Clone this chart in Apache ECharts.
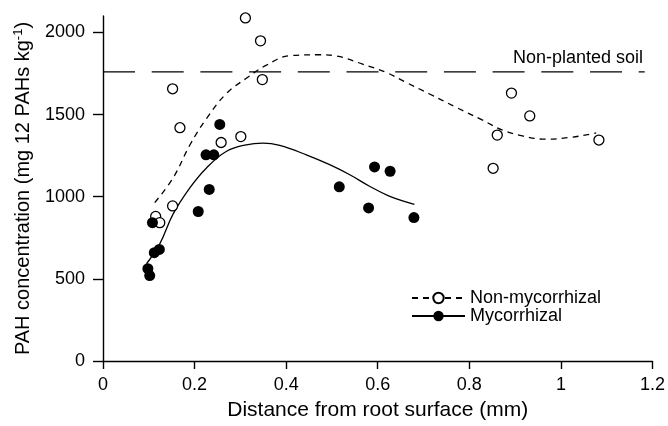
<!DOCTYPE html>
<html>
<head>
<meta charset="utf-8">
<script src="https://cdn.jsdelivr.net/npm/echarts@6/dist/echarts.min.js"></script>
<style>
html,body{margin:0;padding:0;background:#fff;}
#chart{width:668px;height:426px;}
</style>
</head>
<body>
<div id="chart"></div>
<script>
// Observed points: [distance (mm), PAH concentration]
const nonMycPoints = [
  [0.311, 2088], [0.344, 1949], [0.348, 1713], [0.152, 1657], [0.168, 1420],
  [0.258, 1330], [0.301, 1366], [0.152, 944], [0.115, 880], [0.124, 842],
  [0.892, 1631], [0.932, 1492], [0.861, 1375], [1.083, 1345], [0.852, 1173]
];
const mycPoints = [
  [0.255, 1440], [0.225, 1255], [0.242, 1255], [0.232, 1044], [0.208, 910],
  [0.108, 842], [0.112, 659], [0.123, 679], [0.098, 562], [0.102, 520],
  [0.593, 1181], [0.627, 1155], [0.516, 1060], [0.580, 932], [0.679, 873]
];
// Fitted curves
const nonMycCurve = [
  [0.113, 964], [0.153, 1114], [0.190, 1316], [0.226, 1476], [0.269, 1627],
  [0.313, 1721], [0.357, 1801], [0.407, 1858], [0.473, 1864], [0.509, 1857],
  [0.567, 1807], [0.618, 1757], [0.661, 1697], [0.712, 1627], [0.770, 1546],
  [0.829, 1466], [0.872, 1406], [0.916, 1370], [0.967, 1350], [1.017, 1360],
  [1.068, 1382], [1.077, 1388]
];
const mycCurve = [
  [0.095, 592], [0.124, 713], [0.153, 894], [0.190, 1055], [0.226, 1175],
  [0.269, 1275], [0.313, 1316], [0.349, 1326], [0.386, 1312], [0.444, 1255],
  [0.495, 1195], [0.538, 1135], [0.582, 1064], [0.625, 1004], [0.680, 954]
];
const nonPlantedLevel = 1760;
const nonPlantedRange = [0, 1.183];
const xTicks = [0, 0.2, 0.4, 0.6, 0.8, 1, 1.2];
const yTicks = [0, 500, 1000, 1500, 2000];

const FONT = "'Liberation Sans', Arial, Helvetica, sans-serif";
const chart = echarts.init(document.getElementById('chart'), null, {renderer: 'canvas'});
chart.setOption({
  animation: false,
  backgroundColor: '#fff',
  textStyle: {fontFamily: FONT, color: '#000'},
  grid: {left: 103, right: 14, top: 16, bottom: 61},
  xAxis: {
    type: 'value', min: 0, max: 1.2, interval: 0.2,
    name: 'Distance from root surface (mm)', nameLocation: 'middle', nameGap: 39,
    nameTextStyle: {fontSize: 21, fontFamily: FONT, color: '#000'},
    axisLine: {lineStyle: {color: '#000', width: 1.4}},
    axisTick: {length: 8, lineStyle: {color: '#000', width: 1.4}, customValues: xTicks},
    axisLabel: {fontSize: 18, margin: 15, color: '#000', fontFamily: FONT, customValues: xTicks,
      formatter: v => String(v)},
    splitLine: {show: false}
  },
  yAxis: {
    type: 'value', min: 0, max: 2100,
    name: 'PAH concentration (mg 12 PAHs kg{sup|-1})', nameLocation: 'middle', nameGap: 69,
    nameTextStyle: {fontSize: 20, fontFamily: FONT, color: '#000',
      rich: {sup: {fontSize: 13, fontFamily: FONT, color: '#000', verticalAlign: 'bottom', padding: [0, 0, 9, 0]}}},
    axisLine: {show: true, lineStyle: {color: '#000', width: 1.4}},
    axisTick: {show: true, length: 10, lineStyle: {color: '#000', width: 1.4}, customValues: yTicks},
    axisLabel: {fontSize: 18, margin: 18, color: '#000', fontFamily: FONT, customValues: yTicks,
      formatter: v => String(v)},
    splitLine: {show: false}
  },
  legend: {
    orient: 'vertical', left: 411, top: 289, padding: 0, itemGap: 0,
    itemWidth: 53, itemHeight: 13, selectedMode: false,
    textStyle: {fontSize: 18, fontFamily: FONT, color: '#000', lineHeight: 17, padding: [0, 0, 0, 0]},
    data: ['Non-mycorrhizal', 'Mycorrhizal']
  },
  graphic: [{
    type: 'text', z: 10,
    style: {text: 'Non-planted soil', x: 643, y: 58, align: 'right', verticalAlign: 'middle',
      font: "18px 'Liberation Sans', Arial, sans-serif", fill: '#000'}
  }],
  series: [
    {
      name: 'Non-planted soil', type: 'line', silent: true, showSymbol: false, symbol: 'none',
      data: [[nonPlantedRange[0], nonPlantedLevel], [nonPlantedRange[1], nonPlantedLevel]],
      lineStyle: {color: '#000', width: 1.4, type: [32, 16.7]}, z: 1
    },
    {
      name: 'Non-mycorrhizal', type: 'line', smooth: 0.4, showSymbol: false, symbol: 'circle',
      data: nonMycCurve,
      lineStyle: {color: '#000', width: 1.3, type: [6, 5]},
      itemStyle: {color: '#fff', borderColor: '#000', borderWidth: 1.3}, z: 2
    },
    {
      name: 'Mycorrhizal', type: 'line', smooth: 0.4, showSymbol: false, symbol: 'circle',
      data: mycCurve,
      lineStyle: {color: '#000', width: 1.3, type: 'solid'},
      itemStyle: {color: '#000', borderColor: '#000', borderWidth: 0}, z: 2
    },
    {
      name: 'Non-mycorrhizal data', type: 'scatter', symbol: 'circle', symbolSize: 10,
      data: nonMycPoints,
      itemStyle: {color: '#fff', borderColor: '#000', borderWidth: 1.3, opacity: 1}, z: 3
    },
    {
      name: 'Mycorrhizal data', type: 'scatter', symbol: 'circle', symbolSize: 11,
      data: mycPoints,
      itemStyle: {color: '#000', opacity: 1}, z: 4
    }
  ]
});
</script>
</body>
</html>
